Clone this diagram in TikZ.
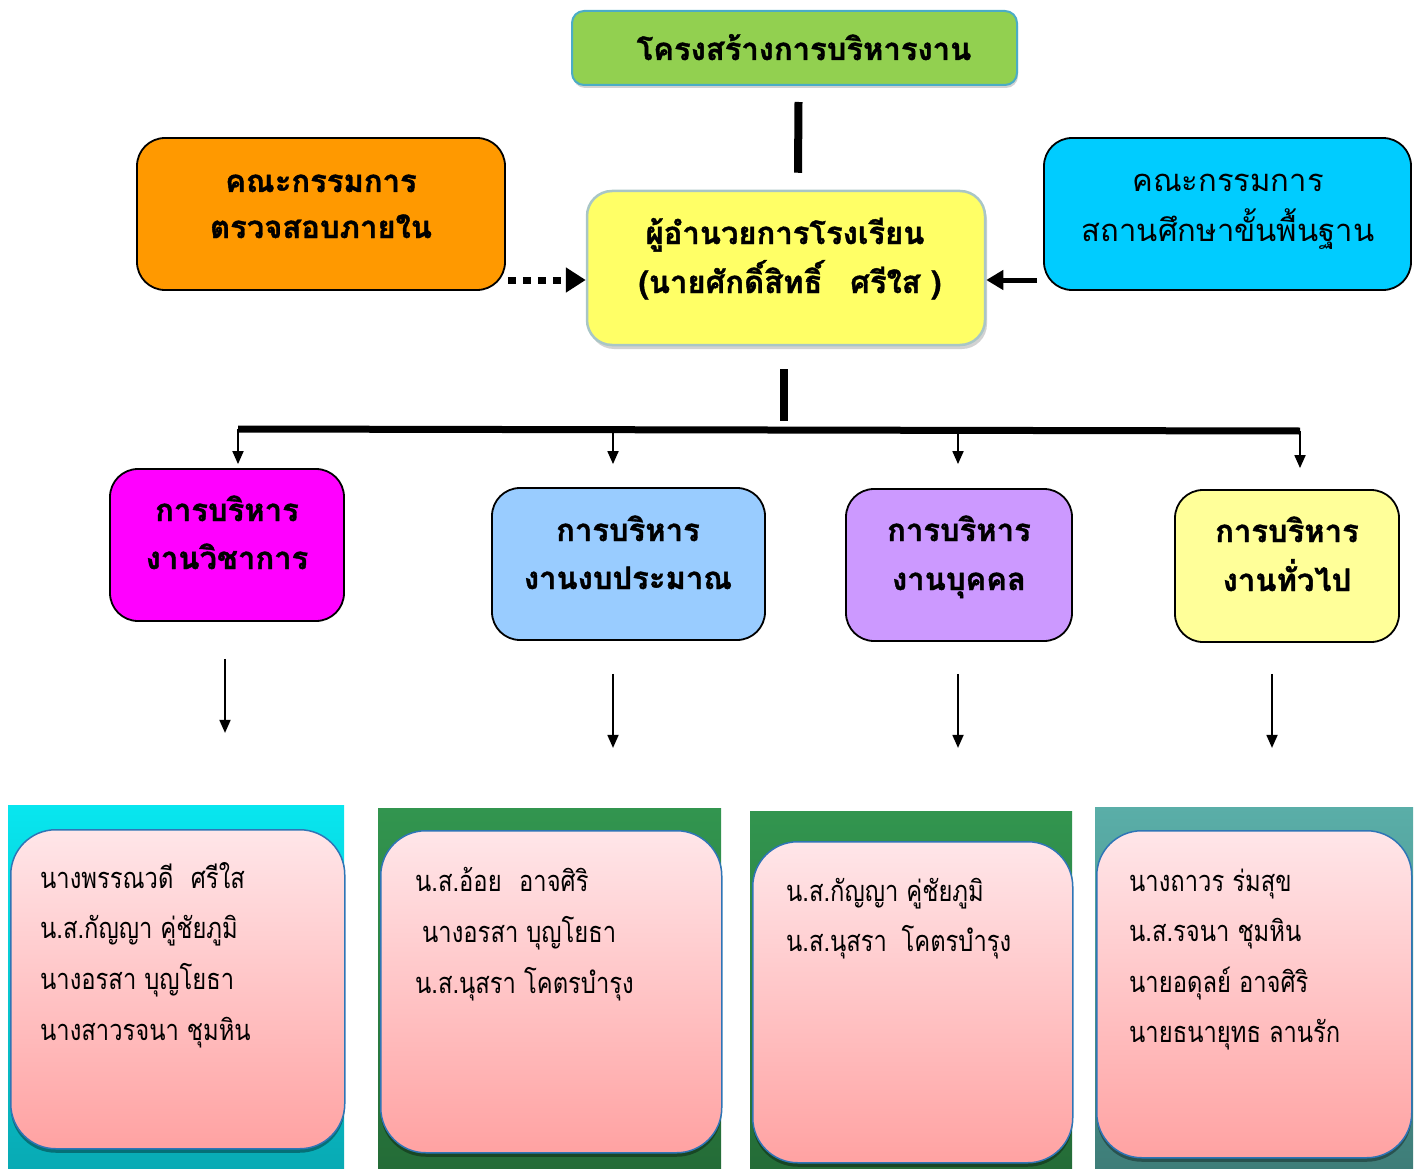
\documentclass[tikz,border=0pt]{standalone}
\usepackage{fontspec}
\newfontfamily\thaihead[Script=Thai,BoldFeatures={FakeBold=1.2}]{Loma}
\newfontfamily\thainame[Script=Thai,FakeStretch=0.82]{Loma}
\usetikzlibrary{arrows.meta,shadows,calc}
\definecolor{titlegreen}{HTML}{92D050}
\definecolor{titleedge}{HTML}{4BACC6}
\definecolor{diryellow}{HTML}{FFFF66}
\definecolor{diredge}{HTML}{A9C6C6}
\definecolor{auditorange}{HTML}{FF9900}
\definecolor{boardcyan}{HTML}{00CCFF}
\definecolor{acadmag}{HTML}{FF00FF}
\definecolor{budgetblue}{HTML}{99CCFF}
\definecolor{personpurple}{HTML}{CC99FF}
\definecolor{genyellow}{HTML}{FFFF99}
\definecolor{pinktop}{HTML}{FFE6E9}
\definecolor{pinkbot}{HTML}{FFA2A2}
\definecolor{pinkedge}{HTML}{2E75B6}
\definecolor{cyantop}{HTML}{08E6EF}
\definecolor{cyanbot}{HTML}{08AAB4}
\definecolor{greentop}{HTML}{32954F}
\definecolor{greenbot}{HTML}{246C37}
\definecolor{tealtop}{HTML}{5AAEA8}
\definecolor{tealbot}{HTML}{3E7D78}
\begin{document}
\begin{tikzpicture}[x=1pt,y=-1pt,
  hbox/.style={draw=black, line width=1.8pt, rounded corners=28pt, inner sep=0pt, minimum height=152pt},
  htext/.style={font=\thaihead\bfseries\fontsize{31}{36}\selectfont, anchor=base, inner sep=0pt},
  htextn/.style={font=\thaihead\fontsize{31}{36}\selectfont, anchor=base, inner sep=0pt},
  nametext/.style={font=\thainame\fontsize{29}{34}\selectfont, anchor=base west, inner sep=0pt},
  barline/.style={line width=8pt},
  thinarrow/.style={line width=1.8pt, -{Triangle[length=13pt,width=11pt]}},
  panelbg/.style={inner sep=0pt, outer sep=0pt, anchor=north west},
  namebox/.style={draw=pinkedge, line width=1.5pt, rounded corners=45pt, top color=pinktop, bottom color=pinkbot, inner sep=0pt, anchor=north west,
     drop shadow={shadow xshift=0pt, shadow yshift=-4pt, fill=black, opacity=0.35}},
]
\useasboundingbox (0,0) rectangle (1416,1169);

% title
\node[draw=titleedge, line width=2pt, fill=titlegreen, rounded corners=12pt, minimum width=445pt, minimum height=74pt,
      drop shadow={shadow xshift=1pt, shadow yshift=-3pt, fill=gray!70}] (title) at (794.5,48) {};
\node[htext] (titletxt) at (804,60) {โครงสร้างการบริหารงาน};

% director
\node[draw=diredge, line width=2.5pt, fill=diryellow, rounded corners=25pt, minimum width=398pt, minimum height=154pt,
      drop shadow={shadow xshift=2pt, shadow yshift=-4pt, fill=gray!70}] (director) at (786,268) {};
\node[htext] (dir1) at (785,244) {ผู้อำนวยการโรงเรียน};
\node[htext] (dir2) at (790,293) {(นายศักดิ์สิทธิ์\hspace{0.9em}ศรีใส )};

% committees
\node[hbox, fill=auditorange, minimum width=368pt] (audit) at (321,214) {};
\node[htext] (audit1) at (321,192) {คณะกรรมการ};
\node[htext] (audit2) at (321,238) {ตรวจสอบภายใน};
\node[hbox, fill=boardcyan, minimum width=367pt] (board) at (1227.5,214) {};
\node[htextn] (board1) at (1228,192) {คณะกรรมการ};
\node[htextn] (board2) at (1228,241) {สถานศึกษาขั้นพื้นฐาน};

% connectors top
\draw[barline] ([xshift=4pt,yshift=-16pt]title.south) -- ([xshift=12pt,yshift=17pt]director.north);
\coordinate (auditout) at ([xshift=2pt,yshift=-66pt]audit.east);
\draw[line width=7pt, dash pattern=on 8pt off 7pt, -{Triangle[length=20pt,width=24pt]}]
  (auditout) -- (director.west |- auditout);
\coordinate (boardout) at ([xshift=-6pt,yshift=-66pt]board.west);
\draw[line width=5pt, -{Triangle[length=17pt,width=19pt]}] (boardout) -- (director.east |- boardout);

% level 2 boxes
\node[hbox, fill=acadmag, minimum width=234pt] (acad) at (227,545) {};
\node[htext] (acad1) at (227,521) {การบริหาร};
\node[htext] (acad2) at (227,569) {งานวิชาการ};
\node[hbox, fill=budgetblue, minimum width=273pt] (budget) at (628.5,564) {};
\node[htext] (budget1) at (628,541) {การบริหาร};
\node[htext] (budget2) at (628,589) {งานงบประมาณ};
\node[hbox, fill=personpurple, minimum width=226pt] (person) at (959,565) {};
\node[htext] (person1) at (959,541) {การบริหาร};
\node[htext] (person2) at (959,590) {งานบุคคล};
\node[hbox, fill=genyellow, minimum width=224pt] (general) at (1287,566) {};
\node[htext] (general1) at (1287,542) {การบริหาร};
\node[htext] (general2) at (1287,591) {งานทั่วไป};

% bus
\coordinate (busL) at (238,429);
\coordinate (busR) at (1300,431);
\coordinate (busB) at (613,430);
\coordinate (busP) at (958,430);
\draw[barline] ([xshift=-2pt,yshift=-23pt]director.south) -- ([xshift=-2pt,yshift=-75pt]director.south);
\draw[line width=7pt] (busL) -- (busR);
\draw[thinarrow] (busL) -- ([yshift=4pt]busL |- acad.north);
\draw[thinarrow] (busB) -- ([yshift=23pt]busB |- budget.north);
\draw[thinarrow] (busP) -- ([yshift=24pt]busP |- person.north);
\draw[thinarrow] (busR) -- ([yshift=21pt]busR |- general.north);

% panels
\node[panelbg, top color=cyantop, bottom color=cyanbot, minimum width=336pt, minimum height=364pt] (p1bg) at (8,805) {};
\node[panelbg, top color=greentop, bottom color=greenbot, minimum width=343pt, minimum height=361pt] (p2bg) at (378,808) {};
\node[panelbg, top color=greentop, bottom color=greenbot, minimum width=322pt, minimum height=358pt] (p3bg) at (750,811) {};
\node[panelbg, top color=tealtop, bottom color=tealbot, minimum width=318pt, minimum height=362pt] (p4bg) at (1095,807) {};

\node[namebox, minimum width=334pt, minimum height=319pt] (p1) at (10,829) {};
\node[namebox, minimum width=341pt, minimum height=322pt] (p2) at (380,830) {};
\node[namebox, minimum width=320pt, minimum height=321pt] (p3) at (752,841) {};
\node[namebox, minimum width=315pt, minimum height=327pt] (p4) at (1096,830) {};

% lower arrows
\draw[thinarrow] ([xshift=-2pt,yshift=-37pt]acad.south) -- ([xshift=-2pt,yshift=-111pt]acad.south);
\draw[thinarrow] ([yshift=-33pt]budget.south -| busB) -- ([yshift=-107pt]budget.south -| busB);
\draw[thinarrow] ([yshift=-32pt]person.south -| busP) -- ([yshift=-106pt]person.south -| busP);
\draw[thinarrow] ([xshift=-15pt,yshift=-31pt]general.south) -- ([xshift=-15pt,yshift=-105pt]general.south);

% names
\node[nametext] (n11) at (40,888) {นางพรรณวดี\hspace{0.6em}ศรีใส};
\node[nametext] (n12) at (40,938) {น.ส.กัญญา คู่ชัยภูมิ};
\node[nametext] (n13) at (40,989) {นางอรสา บุญโยธา};
\node[nametext] (n14) at (40,1040) {นางสาวรจนา ชุมหิน};
\node[nametext] (n21) at (415,891) {น.ส.อ้อย\hspace{0.6em}อาจศิริ};
\node[nametext] (n22) at (422,942) {นางอรสา บุญโยธา};
\node[nametext] (n23) at (415,993) {น.ส.นุสรา โคตรบำรุง};
\node[nametext] (n31) at (786,901) {น.ส.กัญญา คู่ชัยภูมิ};
\node[nametext] (n32) at (786,951) {น.ส.นุสรา\hspace{0.5em}โคตรบำรุง};
\node[nametext] (n41) at (1129,891) {นางถาวร ร่มสุข};
\node[nametext] (n42) at (1129,941) {น.ส.รจนา ชุมหิน};
\node[nametext] (n43) at (1129,992) {นายอดุลย์ อาจศิริ};
\node[nametext] (n44) at (1129,1042) {นายธนายุทธ ลานรัก};
\end{tikzpicture}
\end{document}
